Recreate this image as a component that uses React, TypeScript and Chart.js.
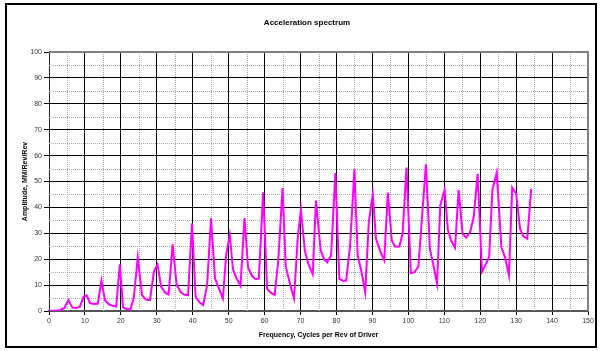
import React, { useEffect, useRef } from "react";
import { Chart, registerables } from "chart.js";

Chart.register(...registerables);

const chartTitle = "Acceleration spectrum";
const xAxisTitle = "Frequency, Cycles per Rev of Driver";
const yAxisTitle = "Amplitude, MM/Rev/Rev";

const frequency = [
  0, 1.1, 2.2, 3.2, 4.3, 5.4, 6.5, 7.6, 8.6, 9.6, 10.5, 11.4, 12.5, 13.6, 14.6,
  15.6, 16.8, 17.8, 18.7, 19.7, 20.6, 21.6, 22.6, 23.6, 24.7, 25.9, 27.0, 28.1,
  29.2, 30.2, 31.2, 32.4, 33.3, 34.4, 35.5, 36.6, 37.5, 38.7, 39.8, 40.8, 41.8,
  42.9, 44.0, 45.1, 46.2, 47.3, 48.4, 49.3, 50.3, 51.2, 52.1, 53.3, 54.4, 55.4,
  56.5, 57.5, 58.4, 59.6, 60.7, 61.7, 62.8, 63.8, 65.0, 65.9, 67.1, 68.2, 69.2,
  70.1, 71.2, 72.2, 73.4, 74.3, 75.6, 76.5, 77.4, 78.5, 79.7, 80.8, 81.8, 82.7,
  83.8, 85.0, 85.9, 86.9, 88.0, 89.0, 90.1, 91.0, 92.1, 93.3, 94.3, 95.4, 96.3,
  97.5, 98.4, 99.5, 100.7, 101.7, 102.8, 104.9, 106.0, 106.9, 108.0, 108.9,
  110.1, 111.0, 111.9, 113.0, 114.0, 115.1, 116.1, 117.2, 118.2, 119.3, 120.5,
  121.6, 122.5, 123.4, 124.6, 125.9, 126.9, 128.0, 128.9, 130.0, 131.1, 132.0,
  133.1, 134.2,
];

const amplitude = [
  0, 0.1, 0.2, 0.4, 1.2, 4.3, 1.3, 1.2, 1.7, 5.4, 6.0, 3.0, 2.7, 2.9, 11.7,
  4.1, 2.5, 2.0, 1.7, 18.0, 1.4, 0.8, 0.5, 5.1, 20.7, 6.1, 4.4, 4.2,
  15.2, 18.0, 9.4, 7.0, 6.4, 25.7, 10.3, 7.4, 6.4, 6.1, 33.9, 5.5, 3.5,
  2.3, 10.0, 35.8, 12.6, 8.7, 4.8, 21.6, 29.4, 16.1, 12.9, 9.7, 35.9, 16.8,
  13.5, 12.3, 12.6, 45.8, 8.6, 7.1, 6.2, 19.4, 47.5, 17.0, 10.3, 4.8, 27.7,
  39.0, 23.2, 18.1, 14.2, 42.6, 23.4, 20.1, 18.8, 21.4, 53.3, 12.4, 11.7, 11.7,
  25.3, 54.7, 21.4, 15.6, 7.2, 34.3, 45.0, 27.9, 23.4, 19.5, 45.7, 27.2, 24.9,
  24.9, 29.8, 55.4, 14.6, 15.0, 17.2, 56.6, 24.0, 18.2, 10.5, 40.8,
  46.8, 31.4, 27.2, 24.4, 46.8, 29.8, 28.3, 30.5, 36.3, 53.0, 15.2,
  18.2, 21.0, 46.8, 53.5, 24.6, 20.8, 13.7, 47.6, 45.3, 31.7, 28.8,
  27.9, 47.2,
];

const xMin = 0;
const xMax = 150;
const xMajorStep = 10;
const xMinorTicks = [5, 15, 25, 35, 45, 55, 65, 75, 85, 95, 105, 115, 125, 135, 145];
const yMin = 0;
const yMax = 100;
const yMajorStep = 10;
const yMinorTicks = [5, 15, 25, 35, 45, 55, 65, 75, 85, 95];

const FONT = "'Liberation Sans', Arial, Helvetica, sans-serif";

const minorGridPlugin = {
  id: "minorGrid",
  beforeDatasetsDraw(chart: any) {
    const { ctx, chartArea, scales } = chart;
    const { left, right, top, bottom } = chartArea;
    ctx.save();
    ctx.strokeStyle = "#aaaaaa";
    ctx.lineWidth = 1;
    ctx.setLineDash([1, 1]);
    for (const v of xMinorTicks) {
      const px = Math.round(scales.x.getPixelForValue(v)) + 0.5;
      ctx.beginPath();
      ctx.moveTo(px, top);
      ctx.lineTo(px, bottom);
      ctx.stroke();
    }
    for (const v of yMinorTicks) {
      const py = Math.round(scales.y.getPixelForValue(v)) + 0.5;
      ctx.beginPath();
      ctx.moveTo(left, py);
      ctx.lineTo(right, py);
      ctx.stroke();
    }
    ctx.restore();
  },
  afterDatasetsDraw(chart: any) {
    const { ctx, chartArea } = chart;
    const { left, right, top, bottom } = chartArea;
    ctx.save();
    ctx.strokeStyle = "#808080";
    ctx.lineWidth = 2;
    ctx.beginPath();
    ctx.moveTo(left, top);
    ctx.lineTo(right, top);
    ctx.lineTo(right, bottom);
    ctx.stroke();
    ctx.restore();
  },
  afterDraw(chart: any) {
    const { ctx } = chart;
    ctx.save();
    ctx.fillStyle = "#000";
    ctx.font = `bold 8px ${FONT}`;
    ctx.textAlign = "center";
    ctx.textBaseline = "middle";
    ctx.fillText(chartTitle, 307, 23);
    ctx.restore();
  },
};

export default function App() {
  const canvasRef = useRef<HTMLCanvasElement | null>(null);

  useEffect(() => {
    const canvas = canvasRef.current;
    if (!canvas) return;
    const points = frequency.map((f, i) => ({ x: f, y: amplitude[i] }));
    const chart = new Chart(canvas, {
      type: "line",
      data: {
        datasets: [
          {
            label: "Acceleration",
            data: points,
            borderColor: "#ff00ff",
            borderWidth: 2,
            pointRadius: 0,
            tension: 0,
            fill: false,
          },
        ],
      },
      options: {
        responsive: false,
        animation: false,
        devicePixelRatio: 1,
        layout: { padding: { left: 0, right: 12, top: 52, bottom: 0 } },
        plugins: {
          legend: { display: false },
          tooltip: { enabled: false },
          title: { display: false },
        },
        scales: {
          x: {
            type: "linear",
            min: xMin,
            max: xMax,
            ticks: {
              stepSize: xMajorStep,
              color: "#333",
              font: { family: FONT, size: 7 },
              padding: 2,
              maxRotation: 0,
            },
            grid: {
              color: (c: any) => (c.tick && c.tick.value === xMax ? "#808080" : "#000"),
              lineWidth: 1,
              tickLength: 4,
              tickColor: "#000",
            },
            border: { display: true, color: "#555", width: 2 },
            title: {
              display: true,
              text: xAxisTitle,
              color: "#000",
              font: { family: FONT, size: 7, weight: "bold" },
              padding: { top: 0, bottom: 12 },
            },
            afterFit: (scale: any) => {
              scale.height = 40;
            },
          },
          y: {
            type: "linear",
            min: yMin,
            max: yMax,
            ticks: {
              stepSize: yMajorStep,
              color: "#333",
              font: { family: FONT, size: 7 },
              padding: 2,
            },
            grid: {
              color: (c: any) => (c.tick && c.tick.value === yMax ? "#808080" : "#000"),
              lineWidth: 1,
              tickLength: 5,
              tickColor: "#000",
            },
            border: { display: true, color: "#222", width: 1 },
            title: {
              display: true,
              text: yAxisTitle,
              color: "#000",
              font: { family: FONT, size: 7, weight: "bold" },
              padding: { top: 21, bottom: 0 },
            },
            afterFit: (scale: any) => {
              scale.width = 49;
            },
          },
        },
      },
      plugins: [minorGridPlugin],
    });
    return () => chart.destroy();
  }, []);

  return (
    <div style={{ position: "absolute", left: 0, top: 0, width: 600, height: 351, background: "#fff" }}>
      <canvas
        ref={canvasRef}
        width={600}
        height={351}
        style={{ position: "absolute", left: 0, top: 0, width: 600, height: 351, display: "block" }}
      />
      <div
        style={{
          position: "absolute",
          left: 5,
          top: 3,
          width: 592,
          height: 345,
          border: "2px solid #000",
          boxSizing: "border-box",
          pointerEvents: "none",
        }}
      />
    </div>
  );
}
